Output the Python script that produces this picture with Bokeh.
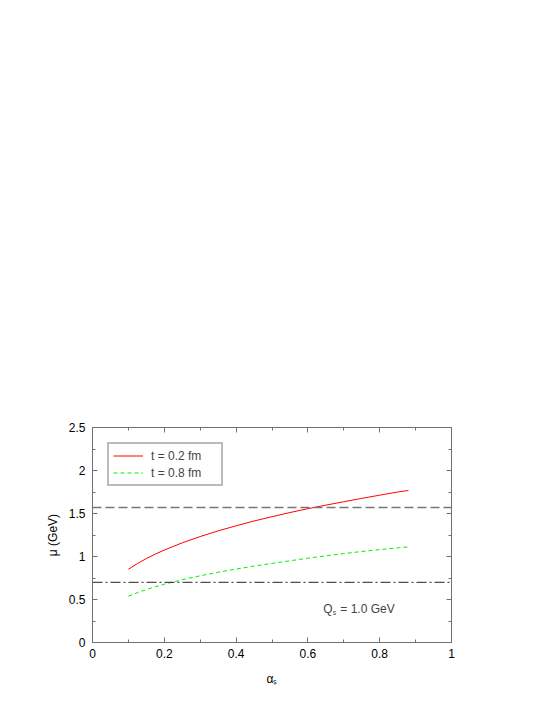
from bokeh.plotting import figure
from bokeh.models import (LinearAxis, Span, Label, Legend, LegendItem,
                          FixedTicker, Range1d, CustomJSTickFormatter)
from bokeh.embed import file_html
from bokeh.resources import INLINE

alpha_s = [0.1, 0.125, 0.15, 0.175, 0.2, 0.25, 0.3, 0.35, 0.4, 0.45, 0.5,
           0.55, 0.6, 0.65, 0.7, 0.75, 0.8, 0.85, 0.88]
mu_t02 = [0.852, 0.918, 0.976, 1.028, 1.075, 1.159, 1.232, 1.298, 1.357, 1.413,
          1.463, 1.511, 1.556, 1.597, 1.637, 1.676, 1.713, 1.750, 1.767]
mu_t08 = [0.538, 0.579, 0.615, 0.648, 0.678, 0.730, 0.776, 0.817, 0.854, 0.888,
          0.920, 0.950, 0.980, 1.008, 1.034, 1.058, 1.080, 1.100, 1.112]
h_dash = 1.57
h_dashdot = 0.70
legend_labels = ["t = 0.2 fm", "t = 0.8 fm"]
x_ticks = [0, 0.2, 0.4, 0.6, 0.8, 1.0]
x_minor = [0.1, 0.3, 0.5, 0.7, 0.9]
y_ticks = [0, 0.5, 1.0, 1.5, 2.0, 2.5]
y_minor = [0.25, 0.75, 1.25, 1.75, 2.25]

FONT = "Liberation Sans"
AX = "#707070"

p = figure(output_backend="svg", toolbar_location=None,
           frame_width=359, frame_height=215,
           min_border_left=92, min_border_top=427,
           min_border_right=60, min_border_bottom=50,
           x_range=Range1d(0, 1), y_range=Range1d(0, 2.5),
           x_axis_location=None, y_axis_location=None)
p.xgrid.visible = False
p.ygrid.visible = False
p.outline_line_color = AX
p.outline_line_width = 1
p.background_fill_color = "white"
p.border_fill_color = "white"


def style(ax):
    ax.axis_line_color = AX
    ax.major_tick_line_color = AX
    ax.minor_tick_line_color = AX
    ax.major_tick_in = 5
    ax.major_tick_out = 0
    ax.minor_tick_in = 3
    ax.minor_tick_out = 0
    ax.major_label_text_font = FONT
    ax.major_label_text_font_size = "12px"
    ax.major_label_text_color = "black"
    ax.axis_label_text_font = FONT
    ax.axis_label_text_font_style = "normal"
    ax.axis_label_text_font_size = "12px"
    ax.axis_label_text_color = "black"


xt = FixedTicker(ticks=x_ticks, minor_ticks=x_minor)
yt = FixedTicker(ticks=y_ticks, minor_ticks=y_minor)

xb = LinearAxis(ticker=xt, major_label_standoff=6, axis_label="αₛ",
                axis_label_standoff=11)
style(xb)
xb.major_label_overrides = {0: "0", 1: "1"}
p.add_layout(xb, "below")

yl = LinearAxis(ticker=yt, axis_label="μ (GeV)", major_label_standoff=7,
                axis_label_standoff=6)
style(yl)
p.add_layout(yl, "left")

# mirror axes (ticks only) on top and right
for loc, tk in (("above", xt), ("right", yt)):
    ax = LinearAxis(ticker=tk, formatter=CustomJSTickFormatter(code="return ''"),
                    major_label_standoff=0)
    style(ax)
    p.add_layout(ax, loc)

p.add_layout(Span(location=h_dash, dimension="width", line_color="#777777",
                  line_width=1.6, line_dash="9 4"))
p.add_layout(Span(location=h_dashdot, dimension="width", line_color="#222222",
                  line_width=1, line_dash="10 3 2 3"))

r1 = p.line(alpha_s, mu_t02, line_color="#ff0000", line_width=1)
r2 = p.line(alpha_s, mu_t08, line_color="#00ee00", line_width=1, line_dash="4 3")

leg = Legend(items=[LegendItem(label=legend_labels[0], renderers=[r1]),
                    LegendItem(label=legend_labels[1], renderers=[r2])],
             location="top_left", margin=15, padding=4, spacing=2,
             glyph_width=30, glyph_height=15, label_standoff=8,
             label_text_font=FONT, label_text_font_size="12px",
             label_height=15, label_width=66,
             border_line_color="#777777", border_line_width=2,
             background_fill_alpha=1)
p.add_layout(leg)

# Q_s annotation
p.add_layout(Label(x=0.643, y=0.387, text="Q", text_font=FONT,
                   text_font_size="12px", text_baseline="alphabetic"))
p.add_layout(Label(x=0.643, y=0.387, x_offset=9.5, y_offset=-3, text="s",
                   text_font=FONT, text_font_size="7px",
                   text_baseline="alphabetic"))
p.add_layout(Label(x=0.643, y=0.387, x_offset=17, text="= 1.0 GeV",
                   text_font=FONT, text_font_size="12px",
                   text_baseline="alphabetic"))

open("out.html", "w").write(file_html(p, INLINE))
